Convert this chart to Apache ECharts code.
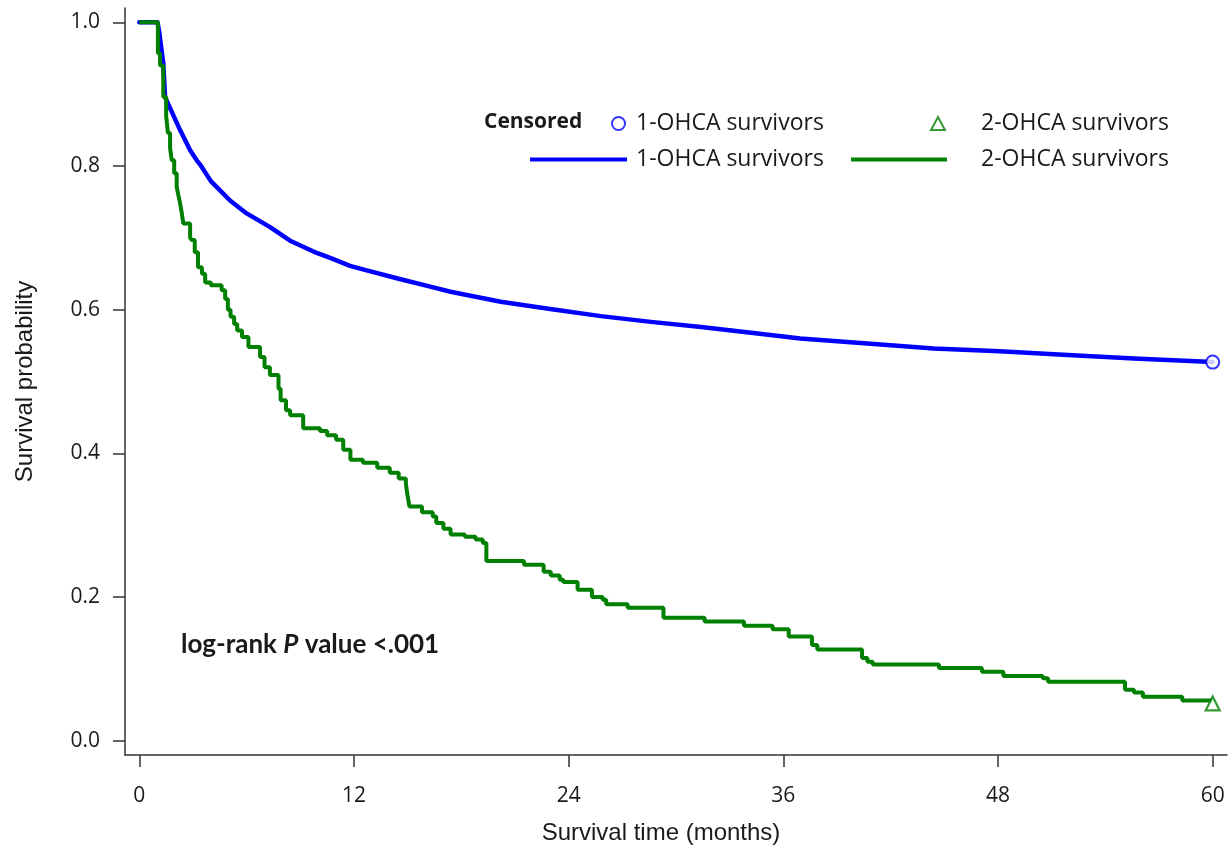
<!DOCTYPE html>
<html>
<head>
<meta charset="utf-8">
<title>Survival by OHCA group</title>
<script src="https://cdn.jsdelivr.net/npm/echarts@6/dist/echarts.min.js"></script>
<style>
  html, body { margin: 0; padding: 0; background: #fff; }
  #chart { width: 1232px; height: 857px; }
</style>
</head>
<body>
<div id="chart"></div>
<script>
// tick labels
const xTicks = [0, 12, 24, 36, 48, 60];
const yTicks = [0, 0.2, 0.4, 0.6, 0.8, 1.0];

// 1-OHCA survivors (large group, nearly smooth curve)
const oneMonths = [0, 1.02, 1.12, 1.34, 1.44, 2.28, 2.84, 3.21, 3.4, 4.0, 5.07, 6.0, 7.31, 8.43, 9.92,
  10.67, 11.78, 12.5, 14.5, 16.26, 17.4, 20.2, 22.97, 25.8, 28.6, 31.4, 34.2, 36.95, 40.7, 44.4,
  48.1, 51.9, 55.6, 60];
const oneSurv = [1.0, 1.0, 0.985, 0.943, 0.896, 0.85, 0.822, 0.808, 0.802, 0.779, 0.752, 0.734, 0.715, 0.696, 0.679,
  0.672, 0.661, 0.656, 0.643, 0.632, 0.625, 0.611, 0.601, 0.591, 0.583, 0.576, 0.568, 0.56, 0.553, 0.546,
  0.542, 0.537, 0.532, 0.527];

// 2-OHCA survivors (step function, time of each drop and value after it)
const twoMonths = [0, 1.04, 1.16, 1.34, 1.5, 1.6, 1.72, 1.81, 1.95, 2.09, 2.18, 2.28, 2.37, 2.46, 2.84,
  2.93, 3.1, 3.28, 3.5, 3.68, 4.0, 4.6, 4.8, 4.95, 5.1, 5.3, 5.47, 5.74, 6.1, 6.75, 7.0, 7.3,
  7.78, 7.9, 8.2, 8.43, 9.16, 10.1, 10.5, 11.0, 11.4, 11.8, 12.5, 13.3, 14.0, 14.5, 14.9, 15.0,
  15.1, 15.8, 16.4, 16.6, 17.0, 17.4, 18.2, 18.8, 19.2, 19.4, 21.5, 22.6, 23.0, 23.5, 23.7, 24.5,
  25.3, 25.9, 26.1, 27.3, 29.3, 31.6, 33.8, 35.4, 36.3, 37.6, 37.9, 40.4, 40.7, 41.0, 44.7, 47.1,
  48.3, 50.5, 50.8, 55.1, 55.6, 56.1, 58.3, 60];
const twoSurv = [1.0, 0.957, 0.94, 0.896, 0.87, 0.846, 0.825, 0.808, 0.79, 0.771, 0.76, 0.748, 0.735, 0.72, 0.70,
  0.697, 0.68, 0.659, 0.65, 0.638, 0.634, 0.627, 0.615, 0.60, 0.59, 0.58, 0.571, 0.562, 0.548, 0.534, 0.52, 0.509,
  0.49, 0.474, 0.46, 0.453, 0.435, 0.431, 0.425, 0.419, 0.405, 0.391, 0.387, 0.38, 0.373, 0.365, 0.358, 0.34,
  0.326, 0.318, 0.312, 0.303, 0.295, 0.287, 0.284, 0.28, 0.275, 0.25, 0.245, 0.235, 0.23, 0.224, 0.221, 0.21,
  0.2, 0.196, 0.19, 0.185, 0.171, 0.166, 0.16, 0.155, 0.145, 0.133, 0.127, 0.115, 0.11, 0.106, 0.101, 0.096,
  0.09, 0.087, 0.082, 0.071, 0.067, 0.061, 0.056, 0.056];

// censored marks
const censorOne = [[60, 0.527]];
const censorTwo = [[60, 0.056]];

const seriesNames = { c1: '1-OHCA survivors', c2: '2-OHCA survivors', s1: '1-OHCA survivors', s2: '2-OHCA survivors' };

const BLUE = '#0000ff';
const GREEN = '#008000';
const TXT = '#1a1a1a';
const AX = '#333333';
const tickFont = 'Open Sans';

const zip = (a, b) => a.map((v, i) => [v, b[i]]);

const chart = echarts.init(document.getElementById('chart'), null, { renderer: 'canvas' });

function legendItem(name, left, top, w, h, pad, icon) {
  return {
    data: [{ name: name, icon: icon }],
    left: left, top: top, orient: 'horizontal', padding: 0,
    itemWidth: w, itemHeight: h, selectedMode: false,
    formatter: n => seriesNames[n],
    textStyle: { fontFamily: tickFont, fontSize: 23, color: TXT, padding: [0, 0, 0, pad] }
  };
}

chart.setOption({
  animation: false,
  backgroundColor: '#fff',
  grid: { left: 125, right: 5, top: 8, bottom: 102, containLabel: false },
  title: [
    {
      text: 'Censored', left: 484, top: 112, padding: 0,
      textStyle: { fontFamily: tickFont, fontSize: 21, fontWeight: 'bold', color: TXT }
    },
    {
      text: '{b|log-rank }{i|P}{b| value <.001}', left: 181, top: 632, padding: 0,
      textStyle: {
        rich: {
          b: { fontFamily: 'Lato', fontSize: 26, fontWeight: 'bold', color: TXT },
          i: { fontFamily: 'Lato', fontSize: 26, fontWeight: 'bold', fontStyle: 'italic', color: TXT }
        }
      }
    }
  ],
  legend: [
    legendItem('c1', 611, 112, 13, 13, 6, 'circle'),
    legendItem('c2', 930, 112, 14, 13, 31, 'triangle'),
    legendItem('s1', 530, 148, 97, 4, 4, 'rect'),
    legendItem('s2', 851, 148, 96, 4, 29, 'rect')
  ],
  xAxis: {
    type: 'value', min: -0.8, max: 60.8,
    name: 'Survival time (months)', nameLocation: 'middle', nameGap: 66,
    nameTextStyle: { fontFamily: 'Liberation Sans', fontSize: 24, color: TXT, padding: [0, 30, 0, 0] },
    axisLine: { show: true, onZero: false, lineStyle: { color: AX, width: 1.5 } },
    axisTick: { show: true, length: 12, customValues: xTicks, lineStyle: { color: AX, width: 1.5 } },
    axisLabel: { customValues: xTicks, margin: 31, fontFamily: tickFont, fontSize: 21, color: TXT },
    splitLine: { show: false }
  },
  yAxis: {
    type: 'value', min: -0.02, max: 1.02,
    name: 'Survival probability', nameLocation: 'middle', nameGap: 88,
    nameTextStyle: { fontFamily: 'Liberation Sans', fontSize: 24, color: TXT },
    axisLine: { show: true, onZero: false, lineStyle: { color: AX, width: 1.5 } },
    axisTick: { show: true, length: 12, customValues: yTicks, lineStyle: { color: AX, width: 1.5 } },
    axisLabel: {
      customValues: yTicks, margin: 25, fontFamily: tickFont, fontSize: 21, color: TXT,
      formatter: v => v.toFixed(1)
    },
    splitLine: { show: false }
  },
  series: [
    {
      name: 's1', type: 'line', data: zip(oneMonths, oneSurv), symbol: 'none',
      lineStyle: { color: BLUE, width: 4.5, join: 'round', cap: 'round' }, itemStyle: { color: BLUE }, z: 3
    },
    {
      name: 's2', type: 'line', data: zip(twoMonths, twoSurv), symbol: 'none', step: 'end',
      lineStyle: { color: GREEN, width: 4 }, itemStyle: { color: GREEN }, z: 4
    },
    {
      name: 'c1', type: 'scatter', data: censorOne, symbol: 'circle', symbolSize: 13,
      itemStyle: { color: '#fff', borderColor: BLUE, borderWidth: 2 }, z: 5
    },
    {
      name: 'c2', type: 'scatter', data: censorTwo, symbol: 'triangle', symbolSize: 14,
      symbolOffset: [0, 3],
      itemStyle: { color: '#fff', borderColor: GREEN, borderWidth: 2.2 }, z: 5
    }
  ]
});
</script>
</body>
</html>
